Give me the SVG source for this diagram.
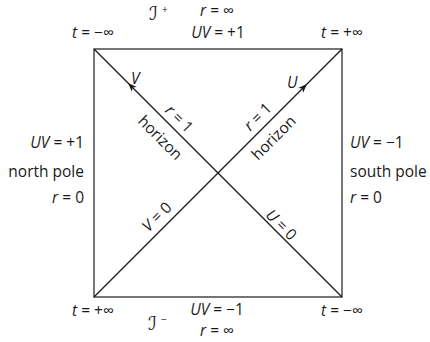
<svg xmlns="http://www.w3.org/2000/svg" width="430" height="342" viewBox="0 0 430 342">
<style>
text{font-family:"Open Sans","Noto Sans",sans-serif;font-size:15.5px;fill:#1a1a1a}
.i{font-style:italic}
.m{text-anchor:middle}
.e{text-anchor:end}
.ln{stroke:#1a1a1a;stroke-width:1.2;fill:none}
.scr{font-family:"DejaVu Sans",sans-serif;font-style:italic;font-size:19px}
.sup{font-size:10px}
</style>
<defs>
<marker id="ah" markerUnits="userSpaceOnUse" markerWidth="12" markerHeight="10" refX="0" refY="0" viewBox="-10 -5 12 10" orient="auto">
<path d="M0,0 L-9,-3.5 L-6.5,0 L-9,3.5 Z" fill="#1a1a1a"/>
</marker>
</defs>
<g id="connectors">
<rect id="square" class="ln" x="94" y="49" width="248" height="248"/>
<path id="line-V" class="ln" d="M342,297 L128,83 L94,49" marker-mid="url(#ah)"/>
<path id="line-U" class="ln" d="M94,297 L307,84 L342,49" marker-mid="url(#ah)"/>
</g>
<g id="top-labels">
<text class="m" x="93" y="38"><tspan class="i">t</tspan> = −∞</text>
<text class="m" x="218" y="38"><tspan class="i">UV</tspan> = +1</text>
<text class="m" x="217" y="16"><tspan class="i">r</tspan> = ∞</text>
<text class="scr" x="149" y="20">ℐ</text>
<text class="sup" x="162" y="13">+</text>
<text class="m" x="342" y="38"><tspan class="i">t</tspan> = +∞</text>
</g>
<g id="bottom-labels">
<text class="m" x="93" y="316"><tspan class="i">t</tspan> = +∞</text>
<text class="m" x="217" y="315"><tspan class="i">UV</tspan> = −1</text>
<text class="m" x="217" y="336"><tspan class="i">r</tspan> = ∞</text>
<text class="scr" x="148" y="330">ℐ</text>
<text class="sup" x="161" y="323">−</text>
<text class="m" x="342" y="316"><tspan class="i">t</tspan> = −∞</text>
</g>
<g id="north-pole">
<text class="e" x="84" y="148"><tspan class="i">UV</tspan> = +1</text>
<text class="e" x="84" y="177">north pole</text>
<text class="e" x="84" y="203"><tspan class="i">r</tspan> = 0</text>
</g>
<g id="south-pole">
<text x="350" y="148"><tspan class="i">UV</tspan> = −1</text>
<text x="350" y="177">south pole</text>
<text x="350" y="203"><tspan class="i">r</tspan> = 0</text>
</g>
<g id="line-labels">
<text class="i" x="131" y="84">V</text>
<text class="i" x="287" y="88">U</text>
<text class="m" transform="translate(179,119) rotate(45)" y="5"><tspan class="i">r</tspan> = 1</text>
<text class="m" transform="translate(160,138) rotate(45)" y="5">horizon</text>
<text class="m" transform="translate(258,117) rotate(-45)" y="5"><tspan class="i">r</tspan> = 1</text>
<text class="m" transform="translate(274,138) rotate(-45)" y="5">horizon</text>
<text class="m" transform="translate(157,217) rotate(-45)" y="5"><tspan class="i">V</tspan> = 0</text>
<text class="m" transform="translate(281,225) rotate(45)" y="5"><tspan class="i">U</tspan> = 0</text>
</g>
</svg>
